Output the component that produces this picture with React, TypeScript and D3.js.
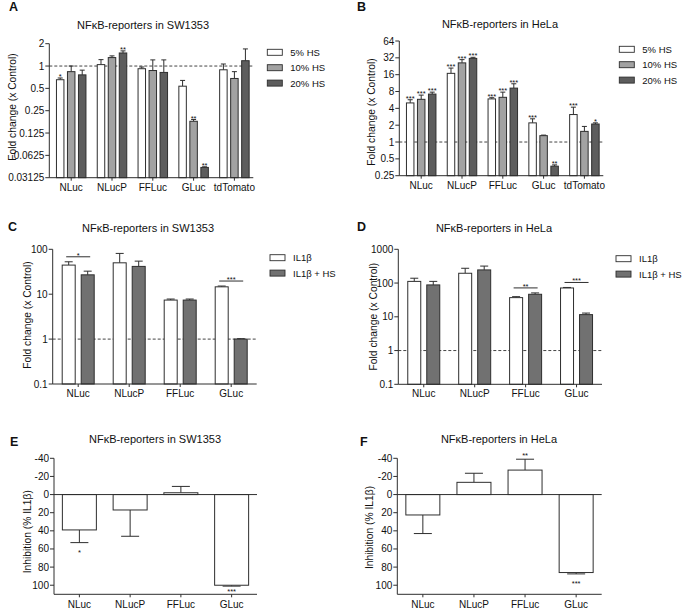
import React from 'react';
import * as d3 from 'd3';

// ---- data ----

const hsCategories = ['NLuc', 'NLucP', 'FFLuc', 'GLuc', 'tdTomato'];
const hsSeries = ['5% HS', '10% HS', '20% HS'];

// A: SW1353, fold change vs control (bar = mean, err = top of SEM)
const swHs5 = [0.654, 1.045, 0.92, 0.535, 0.89];
const swHs5Err = [0.69, 1.22, 0.97, 0.64, 1.065];
const swHs10 = [0.84, 1.3, 0.87, 0.18, 0.68];
const swHs10Err = [1.0, 1.37, 1.21, 0.19, 0.84];
const swHs20 = [0.76, 1.5, 0.82, 0.043, 1.18];
const swHs20Err = [0.88, 1.6, 1.21, 0.0438, 1.7];
const swHs5Stars = ['*', '', '', '', ''];
const swHs10Stars = ['', '', '', '**', ''];
const swHs20Stars = ['', '**', '', '**', ''];
const swHsTicks = [2, 1, 0.5, 0.25, 0.125, 0.0625, 0.03125];

// B: HeLa
const helaHs5 = [5.0, 16.9, 5.9, 2.2, 3.1];
const helaHs5Err = [5.7, 21, 6.2, 2.6, 4.2];
const helaHs10 = [5.8, 26, 6.3, 1.3, 1.55];
const helaHs10Err = [6.9, 29.7, 7.8, 1.33, 1.9];
const helaHs20 = [7.2, 31.3, 9.2, 0.37, 2.1];
const helaHs20Err = [7.8, 32.7, 11, 0.39, 2.2];
const helaHs5Stars = ['***', '***', '***', '***', '***'];
const helaHs10Stars = ['***', '***', '***', '', ''];
const helaHs20Stars = ['***', '***', '***', '**', '*'];
const helaHsTicks = [64, 32, 16, 8, 4, 2, 1, 0.5, 0.25];

const il1Categories = ['NLuc', 'NLucP', 'FFLuc', 'GLuc'];
const il1Series = ['IL1β', 'IL1β + HS'];

// C: SW1353
const swIl1 = [44.5, 50, 7.4, 14.6];
const swIl1Err = [52.7, 81, 7.8, 15.2];
const swIl1Hs = [27, 41.6, 7.4, 1.0];
const swIl1HsErr = [32.6, 54.5, 7.8, 1.02];
const swIl1Sig = ['*', '', '', '***'];
const swIl1Ticks = [100, 10, 1, 0.1];

// D: HeLa
const helaIl1 = [112, 195, 37, 71.5];
const helaIl1Err = [139, 274, 39.5, 74];
const helaIl1Hs = [88, 245, 46.5, 11.6];
const helaIl1HsErr = [112, 318, 51, 12.9];
const helaIl1Sig = ['', '', '**', '***'];
const helaIl1Ticks = [1000, 100, 10, 1, 0.1];

// E / F: inhibition (% IL1b)
const inhibTicks = [-40, -20, 0, 20, 40, 60, 80, 100];
const swInhib = [39, 17, -2, 100];
const swInhibErr = [53, 46, -9, 101];
const swInhibStars = ['*', '', '', '***'];
const helaInhib = [22.5, -13.5, -27, 86];
const helaInhibErr = [43, -23.5, -39, 87.5];
const helaInhibStars = ['', '', '**', '***'];

// ---- style ----

const FONT = '"Liberation Sans", Arial, Helvetica, sans-serif';
const INK = '#2e2e2e';
const hsFills = ['#ffffff', '#a2a2a2', '#5d5d5d'];
const il1Fills = ['#ffffff', '#717171'];

function Header(p: any) {
  return (
    <g fontFamily={FONT} fill="#111">
      <text x={p.letterX} y={p.letterY} fontSize={12.5} fontWeight="bold">{p.letter}</text>
      <text x={p.titleX} y={p.titleY} fontSize={11} textAnchor="middle">{p.title}</text>
      <text transform={'translate(' + p.yTitleX + ',' + p.yTitleY + ') rotate(-90)'}
            fontSize={10.3} textAnchor="middle">{p.yTitle}</text>
    </g>
  );
}

function Legend(p: any) {
  return (
    <g fontFamily={FONT} fontSize={9.5} fill="#111">
      {p.series.map(function(s: string, i: number) {
        const cy = p.y + i * 15.4;
        return (
          <g key={i}>
            <rect x={p.x} y={cy - 3} width={15} height={6} fill={p.fills[i]} stroke={INK} strokeWidth={0.9} />
            <text x={p.x + 23} y={cy} dominantBaseline="central">{s}</text>
          </g>
        );
      })}
    </g>
  );
}

function LogPanel(p: any) {
  const x = d3.scaleBand<string>()
              .domain(p.categories)
              .range([p.x0 + p.shift, p.x1 + p.shift]);
  const xs = d3.scaleBand<string>()
              .domain(p.series)
              .range([-p.groupHalf, p.groupHalf])
              .paddingInner(p.padInner);
  const ticks: number[] = p.ticks;
  const y = d3.scaleLog()
              .base(p.base)
              .domain([ticks[ticks.length - 1], ticks[0]])
              .range([p.yBottom, p.yTop]);
  const cx = (c: string) => (x(c) as number) + x.bandwidth() / 2;

  const bars: any[] = [];
  p.series.forEach(function(s: string, si: number) {
    p.categories.forEach(function(c: string, ci: number) {
      const v = p.means[si][ci];
      const e = p.errs[si][ci];
      const bx = cx(c) + (xs(s) as number);
      const bw = xs.bandwidth();
      const mid = bx + bw / 2;
      const star = p.stars ? p.stars[si][ci] : '';
      bars.push(
        <g key={si + '-' + ci}>
          <line x1={mid} x2={mid} y1={y(v)} y2={y(e)} stroke={INK} strokeWidth={1} />
          <line x1={mid - p.capW / 2} x2={mid + p.capW / 2} y1={y(e)} y2={y(e)} stroke={INK} strokeWidth={1} />
          <rect x={bx} y={y(v)} width={bw} height={p.yBottom - y(v)}
                fill={p.fills[si]} stroke={INK} strokeWidth={1} />
          {star ? <text x={mid} y={y(e) + 1} fontSize={7.5} textAnchor="middle"
                        fontFamily={FONT} fill="#111">{star}</text> : null}
        </g>
      );
    });
  });

  const sigs: any[] = [];
  if (p.sig) {
    p.categories.forEach(function(c: string, ci: number) {
      const mark = p.sig[ci];
      if (!mark) return;
      const top = Math.min(y(p.errs[0][ci]), y(p.errs[1][ci])) - 5;
      sigs.push(
        <g key={'s' + ci}>
          <line x1={cx(c) - 12} x2={cx(c) + 12} y1={top} y2={top} stroke={INK} strokeWidth={1} />
          <text x={cx(c)} y={top + 0.8} fontSize={7.5} textAnchor="middle" fontFamily={FONT} fill="#111">{mark}</text>
        </g>
      );
    });
  }

  return (
    <g>
      <Header {...p} />
      <line x1={p.x0} x2={p.x1} y1={y(1)} y2={y(1)} stroke="#444" strokeWidth={1} strokeDasharray="3,2" />
      {bars}
      {sigs}
      <g stroke={INK} strokeWidth={1} fill="none">
        <line x1={p.x0} x2={p.x0} y1={p.yTop} y2={p.yBottom} />
        <line x1={p.x0} x2={p.x1} y1={p.yBottom} y2={p.yBottom} />
        {ticks.map((t, i) => <line key={i} x1={p.x0 - 4} x2={p.x0} y1={y(t)} y2={y(t)} />)}
        {p.categories.map((c: string) => <line key={c} x1={cx(c)} x2={cx(c)} y1={p.yBottom} y2={p.yBottom + 3} />)}
      </g>
      <g fontFamily={FONT} fontSize={10} fill="#111">
        {ticks.map((t, i) =>
          <text key={i} x={p.x0 - 5} y={y(t)} textAnchor="end" dominantBaseline="central">{String(t)}</text>)}
        {p.categories.map((c: string) =>
          <text key={c} x={cx(c)} y={p.yBottom + 13} textAnchor="middle">{c}</text>)}
      </g>
      <Legend x={p.legendX} y={p.legendY} series={p.series} fills={p.fills} />
    </g>
  );
}

function InhibPanel(p: any) {
  const x = d3.scaleBand<string>()
              .domain(p.categories)
              .range([p.x0, p.x1]);
  const y = d3.scaleLinear()
              .domain([-40, 110])
              .range([p.yTop, p.yBottom]);
  const cx = (c: string) => (x(c) as number) + x.bandwidth() / 2;
  const bw = 34;

  const bars = p.categories.map(function(c: string, i: number) {
    const v = p.values[i];
    const e = p.errs[i];
    const mid = cx(c);
    const star = p.stars[i];
    const below = e > v;
    // stars under downward bars sit just below the cap, but never past the x axis
    const starY = below ? Math.min(y(e) + 12, p.yBottom - 0.5) : y(e) - 1.5;
    return (
      <g key={c}>
        <line x1={mid} x2={mid} y1={y(v)} y2={y(e)} stroke={INK} strokeWidth={1} />
        <line x1={mid - 9} x2={mid + 9} y1={y(e)} y2={y(e)} stroke={INK} strokeWidth={1} />
        <rect x={mid - bw / 2} y={Math.min(y(0), y(v))} width={bw} height={Math.abs(y(v) - y(0))}
              fill="#fff" stroke={INK} strokeWidth={1} />
        {star ? <text x={mid} y={starY} fontSize={7.5} textAnchor="middle"
                      fontFamily={FONT} fill="#111">{star}</text> : null}
      </g>
    );
  });

  return (
    <g>
      <Header {...p} />
      {bars}
      <g stroke={INK} strokeWidth={1} fill="none">
        <line x1={p.x0} x2={p.x1} y1={y(0)} y2={y(0)} />
        <line x1={p.x0} x2={p.x0} y1={p.yTop} y2={p.yBottom} />
        <line x1={p.x0} x2={p.x1} y1={p.yBottom} y2={p.yBottom} />
        {inhibTicks.map((t, i) => <line key={i} x1={p.x0 - 4} x2={p.x0} y1={y(t)} y2={y(t)} />)}
        {p.categories.map((c: string) => <line key={c} x1={cx(c)} x2={cx(c)} y1={p.yBottom} y2={p.yBottom + 3} />)}
      </g>
      <g fontFamily={FONT} fontSize={10} fill="#111">
        {inhibTicks.map((t, i) =>
          <text key={i} x={p.x0 - 5} y={y(t)} textAnchor="end" dominantBaseline="central">{String(t)}</text>)}
        {p.categories.map((c: string) =>
          <text key={c} x={cx(c)} y={p.yBottom + 13.5} textAnchor="middle">{c}</text>)}
      </g>
    </g>
  );
}

export default function App() {
  const foldTitle = 'Fold change (x Control)';
  return (
    <div style={{ position: 'absolute', left: 0, top: 0 }}>
      <svg width={685} height={611} style={{ display: 'block', background: '#fff' }}>
        <LogPanel letter="A" letterX={9} letterY={10.5}
                  title="NFκB-reporters in SW1353" titleX={143} titleY={29}
                  yTitle={foldTitle} yTitleX={16} yTitleY={107}
                  x0={49.3} x1={253.3} yTop={43.7} yBottom={177.7} shift={1.5}
                  base={2} ticks={swHsTicks}
                  categories={hsCategories} series={hsSeries} fills={hsFills}
                  means={[swHs5, swHs10, swHs20]} errs={[swHs5Err, swHs10Err, swHs20Err]}
                  stars={[swHs5Stars, swHs10Stars, swHs20Stars]}
                  groupHalf={14.75} padInner={0.32} capW={5}
                  legendX={267.3} legendY={52.3} />
        <LogPanel letter="B" letterX={357} letterY={10.5}
                  title="NFκB-reporters in HeLa" titleX={500} titleY={28}
                  yTitle={foldTitle} yTitleX={375} yTitleY={112}
                  x0={399.3} x1={603.3} yTop={41} yBottom={175.7} shift={1.5}
                  base={2} ticks={helaHsTicks}
                  categories={hsCategories} series={hsSeries} fills={hsFills}
                  means={[helaHs5, helaHs10, helaHs20]} errs={[helaHs5Err, helaHs10Err, helaHs20Err]}
                  stars={[helaHs5Stars, helaHs10Stars, helaHs20Stars]}
                  groupHalf={14.75} padInner={0.32} capW={5}
                  legendX={619.3} legendY={49.3} />
        <LogPanel letter="C" letterX={8} letterY={230.5}
                  title="NFκB-reporters in SW1353" titleX={148} titleY={232}
                  yTitle={foldTitle} yTitleX={31} yTitleY={315}
                  x0={52.7} x1={256.7} yTop={249.3} yBottom={384} shift={0}
                  base={10} ticks={swIl1Ticks}
                  categories={il1Categories} series={il1Series} fills={il1Fills}
                  means={[swIl1, swIl1Hs]} errs={[swIl1Err, swIl1HsErr]}
                  sig={swIl1Sig}
                  groupHalf={16} padInner={0.316} capW={8}
                  legendX={270} legendY={257.7} />
        <LogPanel letter="D" letterX={357} letterY={230.5}
                  title="NFκB-reporters in HeLa" titleX={494} titleY={232}
                  yTitle={foldTitle} yTitleX={377} yTitleY={316.7}
                  x0={398.3} x1={602} yTop={249.3} yBottom={384.3} shift={0}
                  base={10} ticks={helaIl1Ticks}
                  categories={il1Categories} series={il1Series} fills={il1Fills}
                  means={[helaIl1, helaIl1Hs]} errs={[helaIl1Err, helaIl1HsErr]}
                  sig={helaIl1Sig}
                  groupHalf={16} padInner={0.316} capW={8}
                  legendX={616} legendY={258.7} />
        <InhibPanel letter="E" letterX={10} letterY={445.7}
                    title="NFκB-reporters in SW1353" titleX={155} titleY={443}
                    yTitle="Inhibition (% IL1β)" yTitleX={30.5} yTitleY={531.7}
                    x0={54} x1={257} yTop={458.3} yBottom={594.3}
                    categories={il1Categories} values={swInhib} errs={swInhibErr} stars={swInhibStars} />
        <InhibPanel letter="F" letterX={360} letterY={445.7}
                    title="NFκB-reporters in HeLa" titleX={499} titleY={443}
                    yTitle="Inhibition (% IL1β)" yTitleX={373} yTitleY={527.5}
                    x0={397.3} x1={601.7} yTop={458.3} yBottom={594.3}
                    categories={il1Categories} values={helaInhib} errs={helaInhibErr} stars={helaInhibStars} />
      </svg>
    </div>
  );
}
